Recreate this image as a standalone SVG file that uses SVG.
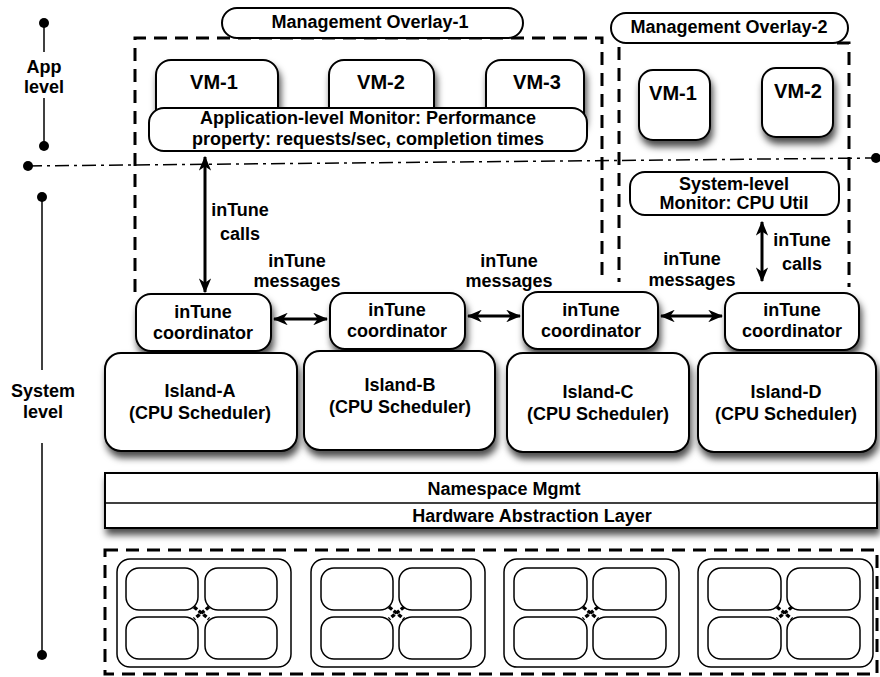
<svg xmlns="http://www.w3.org/2000/svg" width="880" height="677" viewBox="0 0 880 677">
  <style>
    .t { font-family: "Liberation Sans", Arial, Helvetica, sans-serif; font-weight: bold; font-size: 18px; text-anchor: middle; fill: #000; }
    .vm { font-size: 20px; }
    .box { fill: #fff; stroke: #000; stroke-width: 2; }
    .thin { fill: #fff; stroke: #000; stroke-width: 1.5; }
    .dash { fill: none; stroke: #000; stroke-width: 3; stroke-dasharray: 13 8; }
    .axis { fill: none; stroke: #000; stroke-width: 1.5; }
    .dot { fill: #000; }
    .arrow { fill: none; stroke: #000; stroke-width: 3; marker-start: url(#head); marker-end: url(#head); }
    .xlink { stroke: #000; stroke-width: 3.5; stroke-dasharray: 4 2; }
  </style>
  <defs>
    <filter id="shadow" x="-10%" y="-15%" width="125%" height="150%">
      <feDropShadow dx="2" dy="6" stdDeviation="3.5" flood-color="#000" flood-opacity="0.7"/>
    </filter>
    <marker id="head" viewBox="0 0 12 10" refX="11" refY="5" markerWidth="5" markerHeight="4.2" orient="auto-start-reverse" markerUnits="strokeWidth">
      <path d="M0,0 L12,5 L0,10 L3.5,5 z" fill="#000"/>
    </marker>
  </defs>

  <!-- level axis on the left -->
  <g id="level-axis">
    <circle class="dot" cx="44" cy="23" r="5"/>
    <line class="axis" x1="44" y1="26" x2="44" y2="52"/>
    <text class="t" x="44" y="73">App</text>
    <text class="t" x="44" y="93">level</text>
    <line class="axis" x1="44" y1="98" x2="44" y2="143"/>
    <circle class="dot" cx="44" cy="146" r="5"/>

    <circle class="dot" cx="42" cy="197" r="5"/>
    <line class="axis" x1="42" y1="200" x2="42" y2="370"/>
    <text class="t" x="43" y="397">System</text>
    <text class="t" x="43" y="418">level</text>
    <line class="axis" x1="42" y1="443" x2="42" y2="652"/>
    <circle class="dot" cx="42" cy="655" r="5"/>
  </g>

  <!-- app / system separator -->
  <g id="separator">
    <line x1="28" y1="166" x2="876" y2="158" stroke="#000" stroke-width="1.5" stroke-dasharray="14 5 3 5"/>
    <circle class="dot" cx="28" cy="166" r="5"/>
    <circle class="dot" cx="876" cy="158" r="5"/>
  </g>

  <!-- management overlay 1 -->
  <g id="overlay-1">
    <path class="dash" d="M135,292 V38 H602 V280"/>
    <rect class="box" x="222" y="8" width="301" height="30" rx="15"/>
    <text class="t" x="370" y="28">Management Overlay-1</text>
  </g>

  <!-- management overlay 2 -->
  <g id="overlay-2">
    <path class="dash" d="M619,47 V282"/>
    <path class="dash" d="M837,43 H849 V287" stroke-dashoffset="0"/>
    <rect class="box" x="611" y="13" width="237" height="30" rx="15"/>
    <text class="t" x="729" y="33">Management Overlay-2</text>
  </g>

  <g id="o1-vm-1">
    <rect class="box" filter="url(#shadow)" x="156" y="60" width="122" height="70" rx="15"/>
    <text class="t vm" x="214" y="89">VM-1</text>
  </g>
  <g id="o1-vm-2">
    <rect class="box" filter="url(#shadow)" x="329" y="60" width="105" height="70" rx="15"/>
    <text class="t vm" x="381" y="89">VM-2</text>
  </g>
  <g id="o1-vm-3">
    <rect class="box" filter="url(#shadow)" x="486" y="60" width="98" height="70" rx="15"/>
    <text class="t vm" x="537" y="89">VM-3</text>
  </g>
  <g id="app-monitor">
    <rect class="box" x="149" y="108" width="438" height="43" rx="15"/>
    <text class="t" x="368" y="124">Application-level Monitor: Performance</text>
    <text class="t" x="368" y="145">property: requests/sec, completion times</text>
  </g>

  <g id="o2-vm-1">
    <rect class="box" filter="url(#shadow)" x="639" y="70" width="71" height="70" rx="14"/>
    <text class="t vm" x="673" y="100">VM-1</text>
  </g>
  <g id="o2-vm-2">
    <rect class="box" filter="url(#shadow)" x="762" y="68" width="71" height="69" rx="14"/>
    <text class="t vm" x="798" y="98">VM-2</text>
  </g>
  <g id="sys-monitor">
    <rect class="box" x="630" y="172" width="209" height="43" rx="15"/>
    <text class="t" x="734" y="190">System-level</text>
    <text class="t" x="734" y="209">Monitor: CPU Util</text>
  </g>

  <!-- coordinators -->
  <g id="coord-a">
    <rect class="box" filter="url(#shadow)" x="136" y="294" width="135" height="57" rx="15"/>
    <text class="t" x="203" y="318">inTune</text>
    <text class="t" x="203" y="339">coordinator</text>
  </g>
  <g id="coord-b">
    <rect class="box" filter="url(#shadow)" x="330" y="293" width="135" height="56" rx="15"/>
    <text class="t" x="397" y="316">inTune</text>
    <text class="t" x="397" y="337">coordinator</text>
  </g>
  <g id="coord-c">
    <rect class="box" filter="url(#shadow)" x="523" y="292" width="135" height="57" rx="15"/>
    <text class="t" x="591" y="316">inTune</text>
    <text class="t" x="591" y="337">coordinator</text>
  </g>
  <g id="coord-d">
    <rect class="box" filter="url(#shadow)" x="725" y="293" width="134" height="57" rx="15"/>
    <text class="t" x="792" y="316">inTune</text>
    <text class="t" x="792" y="337">coordinator</text>
  </g>

  <!-- islands -->
  <g id="island-a">
    <rect class="box" filter="url(#shadow)" x="105" y="353" width="192" height="98" rx="16"/>
    <text class="t" x="200" y="397">Island-A</text>
    <text class="t" x="200" y="419">(CPU Scheduler)</text>
  </g>
  <g id="island-b">
    <rect class="box" filter="url(#shadow)" x="304" y="351" width="191" height="99" rx="16"/>
    <text class="t" x="400" y="391">Island-B</text>
    <text class="t" x="400" y="413">(CPU Scheduler)</text>
  </g>
  <g id="island-c">
    <rect class="box" filter="url(#shadow)" x="507" y="353" width="182" height="99" rx="16"/>
    <text class="t" x="598" y="398">Island-C</text>
    <text class="t" x="598" y="420">(CPU Scheduler)</text>
  </g>
  <g id="island-d">
    <rect class="box" filter="url(#shadow)" x="698" y="353" width="178" height="99" rx="16"/>
    <text class="t" x="786" y="398">Island-D</text>
    <text class="t" x="786" y="420">(CPU Scheduler)</text>
  </g>

  <!-- shared layers -->
  <g id="layers">
    <rect class="box" filter="url(#shadow)" x="105" y="473" width="772" height="55"/>
    <line x1="105" y1="503" x2="877" y2="503" stroke="#000" stroke-width="1.5"/>
    <text class="t" x="504" y="495">Namespace Mgmt</text>
    <text class="t" x="532" y="522">Hardware Abstraction Layer</text>
  </g>

  <!-- hardware: four chips of four cores -->
  <g id="hardware">
    <rect class="dash" x="105" y="550" width="772" height="124"/>
    <g id="chip-1">
      <rect class="thin" x="117" y="559" width="174" height="108" rx="13"/>
      <rect class="thin" x="126" y="568" width="72" height="42" rx="13"/>
      <rect class="thin" x="205" y="568" width="72" height="42" rx="13"/>
      <rect class="thin" x="126" y="617" width="72" height="42" rx="13"/>
      <rect class="thin" x="205" y="617" width="72" height="42" rx="13"/>
      <line class="xlink" x1="194" y1="607" x2="209" y2="619"/>
      <line class="xlink" x1="209" y1="607" x2="194" y2="619"/>
    </g>
    <g id="chip-2">
      <rect class="thin" x="311" y="559" width="174" height="108" rx="13"/>
      <rect class="thin" x="321" y="568" width="72" height="42" rx="13"/>
      <rect class="thin" x="399" y="568" width="72" height="42" rx="13"/>
      <rect class="thin" x="321" y="617" width="72" height="42" rx="13"/>
      <rect class="thin" x="399" y="617" width="72" height="42" rx="13"/>
      <line class="xlink" x1="389" y1="607" x2="404" y2="619"/>
      <line class="xlink" x1="404" y1="607" x2="389" y2="619"/>
    </g>
    <g id="chip-3">
      <rect class="thin" x="504" y="559" width="175" height="108" rx="13"/>
      <rect class="thin" x="514" y="568" width="73" height="42" rx="13"/>
      <rect class="thin" x="593" y="568" width="73" height="42" rx="13"/>
      <rect class="thin" x="514" y="617" width="73" height="42" rx="13"/>
      <rect class="thin" x="593" y="617" width="73" height="42" rx="13"/>
      <line class="xlink" x1="583" y1="607" x2="598" y2="619"/>
      <line class="xlink" x1="598" y1="607" x2="583" y2="619"/>
    </g>
    <g id="chip-4">
      <rect class="thin" x="698" y="559" width="175" height="108" rx="13"/>
      <rect class="thin" x="708" y="568" width="73" height="42" rx="13"/>
      <rect class="thin" x="787" y="568" width="73" height="42" rx="13"/>
      <rect class="thin" x="708" y="617" width="73" height="42" rx="13"/>
      <rect class="thin" x="787" y="617" width="73" height="42" rx="13"/>
      <line class="xlink" x1="777" y1="607" x2="792" y2="619"/>
      <line class="xlink" x1="792" y1="607" x2="777" y2="619"/>
    </g>
  </g>

  <!-- connectors -->
  <g id="connectors">
    <line class="arrow" x1="205" y1="157" x2="205" y2="292"/>
    <text class="t" x="240" y="216">inTune</text>
    <text class="t" x="240" y="240">calls</text>

    <line class="arrow" x1="762" y1="222" x2="762" y2="281"/>
    <text class="t" x="802" y="246">inTune</text>
    <text class="t" x="802" y="270">calls</text>

    <line class="arrow" x1="274" y1="319" x2="327" y2="319"/>
    <text class="t" x="297" y="267">inTune</text>
    <text class="t" x="297" y="287">messages</text>

    <line class="arrow" x1="468" y1="316" x2="520" y2="316"/>
    <text class="t" x="509" y="267">inTune</text>
    <text class="t" x="509" y="287">messages</text>

    <line class="arrow" x1="661" y1="316" x2="722" y2="316"/>
    <text class="t" x="692" y="265">inTune</text>
    <text class="t" x="692" y="286">messages</text>
  </g>
</svg>
